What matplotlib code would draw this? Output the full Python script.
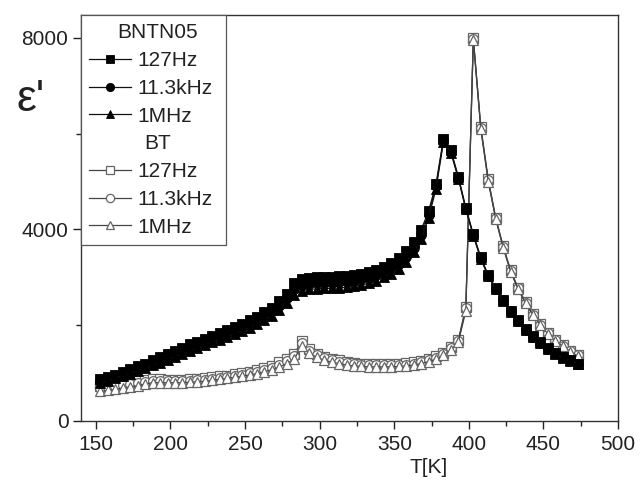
import numpy as np
import matplotlib
matplotlib.use('Agg')
import matplotlib.pyplot as plt
from matplotlib.lines import Line2D
from matplotlib.ticker import MultipleLocator

plt.rcParams['font.family'] = ['Liberation Sans', 'DejaVu Sans']

# temperature points [K]
T = [153, 158, 163, 168, 173, 178, 183, 188, 193, 198, 203, 208, 213, 218, 223, 228,
     233, 238, 243, 248, 253, 258, 263, 268, 273, 278, 283, 288, 293, 298, 303, 308,
     313, 318, 323, 328, 333, 338, 343, 348, 353, 358, 363, 368, 373, 378, 383, 388,
     393, 398, 403, 408, 413, 418, 423, 428, 433, 438, 443, 448, 453, 458, 463, 468, 473]

# BNTN05
bntn_127 = [870, 920, 970, 1020, 1080, 1140, 1200, 1270, 1340, 1400, 1470, 1530, 1600, 1660, 1720, 1780,
            1840, 1900, 1960, 2030, 2100, 2180, 2270, 2370, 2500, 2660, 2880, 2960, 2990, 3000, 3010, 3010,
            3020, 3030, 3050, 3080, 3110, 3160, 3220, 3300, 3400, 3550, 3730, 3990, 4380, 4950, 5900, 5650,
            5100, 4450, 3900, 3420, 3050, 2780, 2530, 2300, 2100, 1920, 1770, 1640, 1520, 1420, 1340, 1270, 1200]
bntn_11k = [830, 880, 930, 980, 1030, 1090, 1150, 1210, 1280, 1340, 1400, 1460, 1530, 1590, 1650, 1710,
            1770, 1830, 1890, 1960, 2030, 2110, 2190, 2290, 2410, 2560, 2760, 2840, 2870, 2880, 2890, 2890,
            2900, 2910, 2930, 2960, 2990, 3040, 3100, 3180, 3280, 3430, 3620, 3890, 4310, 4900, 5870, 5630,
            5080, 4430, 3880, 3400, 3030, 2760, 2520, 2290, 2090, 1910, 1760, 1630, 1510, 1410, 1330, 1270, 1200]
bntn_1M = [790, 840, 890, 940, 990, 1040, 1100, 1160, 1220, 1280, 1340, 1400, 1460, 1520, 1580, 1640,
           1700, 1760, 1820, 1880, 1950, 2030, 2110, 2200, 2320, 2460, 2640, 2720, 2750, 2760, 2770, 2770,
           2780, 2790, 2810, 2840, 2880, 2930, 3000, 3080, 3180, 3330, 3520, 3800, 4240, 4850, 5830, 5600,
           5060, 4420, 3870, 3390, 3020, 2750, 2510, 2280, 2080, 1900, 1750, 1620, 1500, 1400, 1320, 1260, 1190]

# BT
bt_127 = [730, 750, 770, 790, 810, 830, 850, 870, 870, 860, 860, 860, 870, 880, 890, 910,
          930, 950, 980, 1000, 1030, 1060, 1100, 1140, 1230, 1300, 1400, 1680, 1500, 1400, 1340, 1300,
          1270, 1240, 1220, 1200, 1190, 1190, 1190, 1200, 1200, 1210, 1230, 1260, 1300, 1350, 1420, 1540,
          1700, 2380, 8000, 6150, 5050, 4250, 3650, 3150, 2780, 2480, 2230, 2020, 1840, 1700, 1580, 1470, 1380]
bt_11k = [690, 710, 730, 750, 770, 790, 810, 830, 830, 830, 830, 830, 840, 850, 860, 880,
          900, 920, 950, 970, 1000, 1030, 1070, 1110, 1180, 1250, 1350, 1620, 1460, 1370, 1310, 1270,
          1240, 1210, 1190, 1170, 1160, 1160, 1160, 1170, 1170, 1180, 1200, 1230, 1270, 1320, 1400, 1520,
          1680, 2350, 7980, 6130, 5030, 4240, 3640, 3140, 2770, 2470, 2220, 2010, 1830, 1690, 1570, 1460, 1370]
bt_1M = [620, 640, 660, 690, 710, 740, 770, 800, 800, 800, 800, 800, 810, 820, 830, 850,
         870, 890, 910, 940, 960, 990, 1030, 1070, 1130, 1200, 1300, 1560, 1420, 1330, 1270, 1230,
         1200, 1170, 1150, 1140, 1130, 1130, 1130, 1130, 1140, 1150, 1170, 1200, 1240, 1290, 1370, 1490,
         1650, 2300, 7950, 6100, 5000, 4220, 3620, 3120, 2750, 2460, 2210, 2000, 1820, 1680, 1560, 1450, 1360]

freqs = ['127Hz', '11.3kHz', '1MHz']
markers = ['s', 'o', '^']

fig = plt.figure(figsize=(6.41, 4.83), dpi=100)
ax = fig.add_axes([81 / 641, 1 - 421 / 483, 537 / 641, 406 / 483])

bt_h = []
for y, m in zip([bt_127, bt_11k, bt_1M], markers):
    h, = ax.plot(T, y, color='#444444', lw=0.9, marker=m, ms=7,
                 mfc='white', mec='#666666', mew=0.9)
    bt_h.append(h)
bn_h = []
for y, m in zip([bntn_127, bntn_11k, bntn_1M], markers):
    h, = ax.plot(T, y, color='#111111', lw=0.9, marker=m, ms=7,
                 mfc='black', mec='black', mew=0.6)
    bn_h.append(h)

ax.set_xlim(140, 500)
ax.set_ylim(0, 8480)
ax.xaxis.set_major_locator(MultipleLocator(50))
ax.xaxis.set_minor_locator(MultipleLocator(25))
ax.yaxis.set_major_locator(MultipleLocator(4000))
ax.yaxis.set_minor_locator(MultipleLocator(2000))
ax.tick_params(which='both', direction='out', top=False, right=False,
               labelsize=15, colors='#222222')
ax.tick_params(which='major', length=6, width=1)
ax.tick_params(which='minor', length=3.5, width=1)
ax.tick_params(axis='x', pad=4)
ax.tick_params(axis='y', pad=3)
for s in ax.spines.values():
    s.set_color('#333333')
    s.set_linewidth(1)

ax.set_xlabel('T[K]', fontsize=15, color='#222222', labelpad=0)
ax.xaxis.set_label_coords(0.648, -0.09)
fig.text(0.026, 0.77, "ε'", fontsize=32, color='#222222')

blank = Line2D([], [], linestyle='none')
handles = [blank] + bn_h + [blank] + bt_h
labels = ['BNTN05'] + freqs + ['BT'] + freqs
leg = ax.legend(handles, labels, loc='upper left', borderaxespad=0, fontsize=15,
                frameon=True, fancybox=False, edgecolor='#555555', framealpha=1,
                handlelength=2.0, handletextpad=0.3, labelspacing=0.42,
                borderpad=0.4, numpoints=1, markerscale=0.85)
leg.get_frame().set_linewidth(0.9)
for t in leg.get_texts():
    t.set_color('#222222')

# headers: hide the legend text, redraw it centred in the box
fig.canvas.draw()
box = leg.get_window_extent()
texts = leg.get_texts()
for i in (0, 4):
    bb = texts[i].get_window_extent()
    texts[i].set_alpha(0)
    cx = (box.x0 + box.x1) / 2 + 4
    fig.text(cx / fig.bbox.width, (bb.y0 + bb.y1) / 2 / fig.bbox.height, labels[i],
             fontsize=15, color='#222222', ha='center', va='center')

fig.savefig('out.png', dpi=100)
